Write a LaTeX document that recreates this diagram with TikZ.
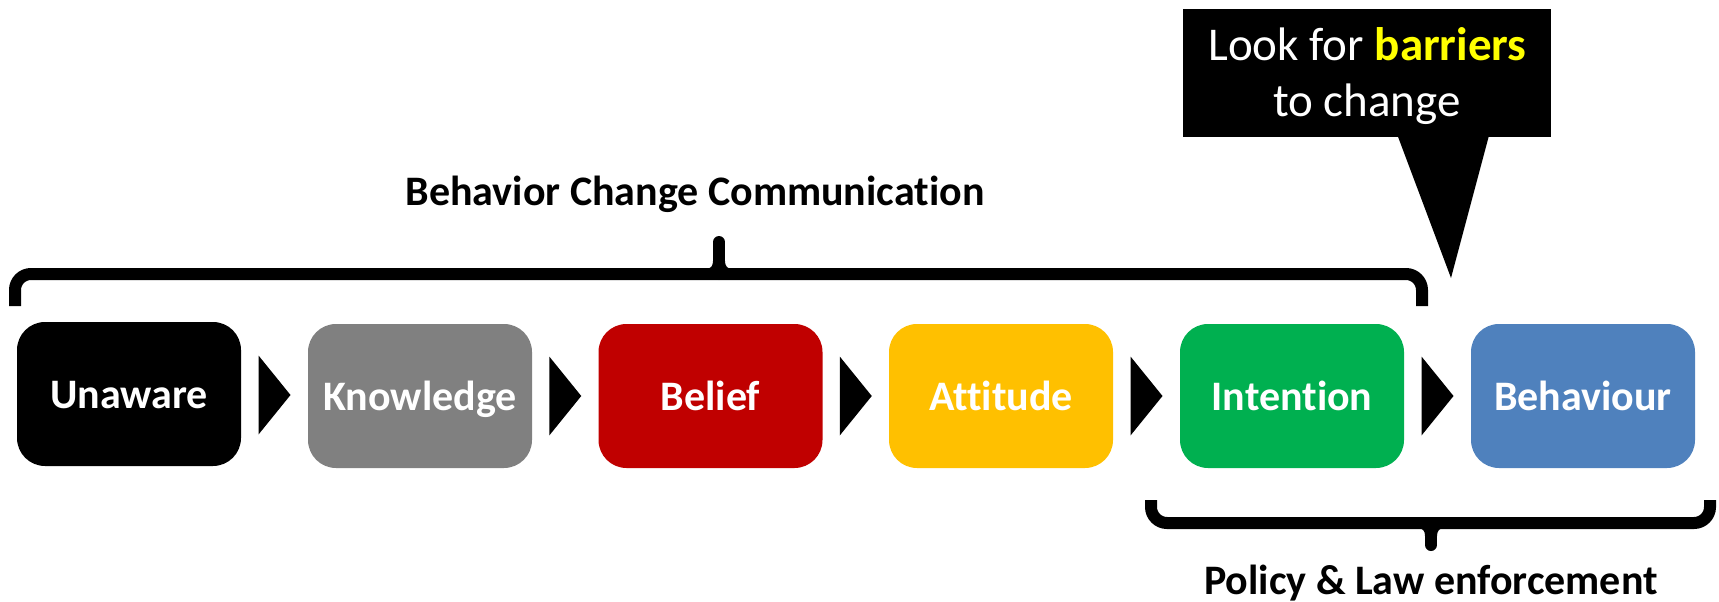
\documentclass[tikz,border=0pt]{standalone}
\usepackage{fontspec}
\setmainfont[Ligatures=NoCommon]{Carlito}
\usetikzlibrary{calc}

\definecolor{stageBlack}{HTML}{000000}
\definecolor{stageGray}{HTML}{808080}
\definecolor{stageRed}{HTML}{C00000}
\definecolor{stageAmber}{HTML}{FFC000}
\definecolor{stageGreen}{HTML}{00B050}
\definecolor{stageBlue}{HTML}{4F81BD}
\definecolor{hiYellow}{HTML}{FFFF00}

\tikzset{
  stage/.style={rectangle, rounded corners=28pt, minimum width=224pt,
    minimum height=144pt, inner sep=0pt, text=white,
    font=\fontsize{42}{50}\selectfont\bfseries,
    text height=30pt, text depth=2pt},
  bracelabel/.style={anchor=base, inner sep=0pt,
    font=\fontsize{42}{50}\selectfont\bfseries},
  callbox/.style={rectangle, fill=black, minimum width=368pt,
    minimum height=128pt, inner sep=0pt},
  calltext/.style={anchor=base, inner sep=0pt, text=white,
    font=\fontsize{47}{56}\selectfont},
  bracket/.style={line width=12pt, rounded corners=16pt},
  chevron/.style={fill=black}
}

\begin{document}
\begin{tikzpicture}[x=1pt, y=-1pt]
  \useasboundingbox (0,0) rectangle (1719,602);

  % stages of the change process
  \node[stage, fill=stageBlack] (s1) at (129,394)   {Unaware};
  \node[stage, fill=stageGray]  (s2) at (420,396)   {Knowledge};
  \node[stage, fill=stageRed]   (s3) at (710.5,396) {Belief};
  \node[stage, fill=stageAmber] (s4) at (1001,396)  {Attitude};
  \node[stage, fill=stageGreen] (s5) at (1292,396)  {Intention};
  \node[stage, fill=stageBlue]  (s6) at (1583,396)  {Behaviour};

  % chevrons between consecutive stages
  \foreach \a/\b in {s1/s2, s2/s3, s3/s4, s4/s5, s5/s6}{
    \fill[chevron] ($(\a.east)!.5!(\b.west)+(-16,-39.5)$)
      -- ++(32,39.5) -- ++(-32,39.5) -- cycle;
  }

  % upper brace: communication phase
  \draw[bracket] (15,306) -- (15,274) -- (1422,274) -- (1422,306);
  \draw[line width=12pt, line cap=round] (719,274) -- (719,242);
  \fill (707,269) .. controls (711,268) and (713,266) .. (713,261)
     -- (725,261) .. controls (725,266) and (727,268) .. (731,269) -- cycle;
  \node[bracelabel] (bcc) at (695,205) {Behavior Change Communication};

  % lower brace: enforcement phase
  \draw[bracket] (1151,500) -- (1151,523) -- (1710,523) -- (1710,500);
  \draw[line width=12pt, line cap=round] (1431,523) -- (1431,545);
  \fill (1419,528) .. controls (1423,529) and (1425,531) .. (1425,536)
     -- (1437,536) .. controls (1437,531) and (1439,529) .. (1443,528) -- cycle;
  \node[bracelabel] (ple) at (1431,594) {Policy \& Law enforcement};

  % callout
  \node[callbox] (call) at (1367,73) {};
  \coordinate (ptip) at (1451,278);
  \fill ($(call.south west)+(215,-1)$) -- (ptip)
     -- ($(call.south west)+(306,-1)$) -- cycle;
  \node[calltext] (cl1) at (1367.5,61)
     {Look for \textbf{\textcolor{hiYellow}{barriers}}};
  \node[calltext] (cl2) at (1367,117) {to change};
\end{tikzpicture}
\end{document}
